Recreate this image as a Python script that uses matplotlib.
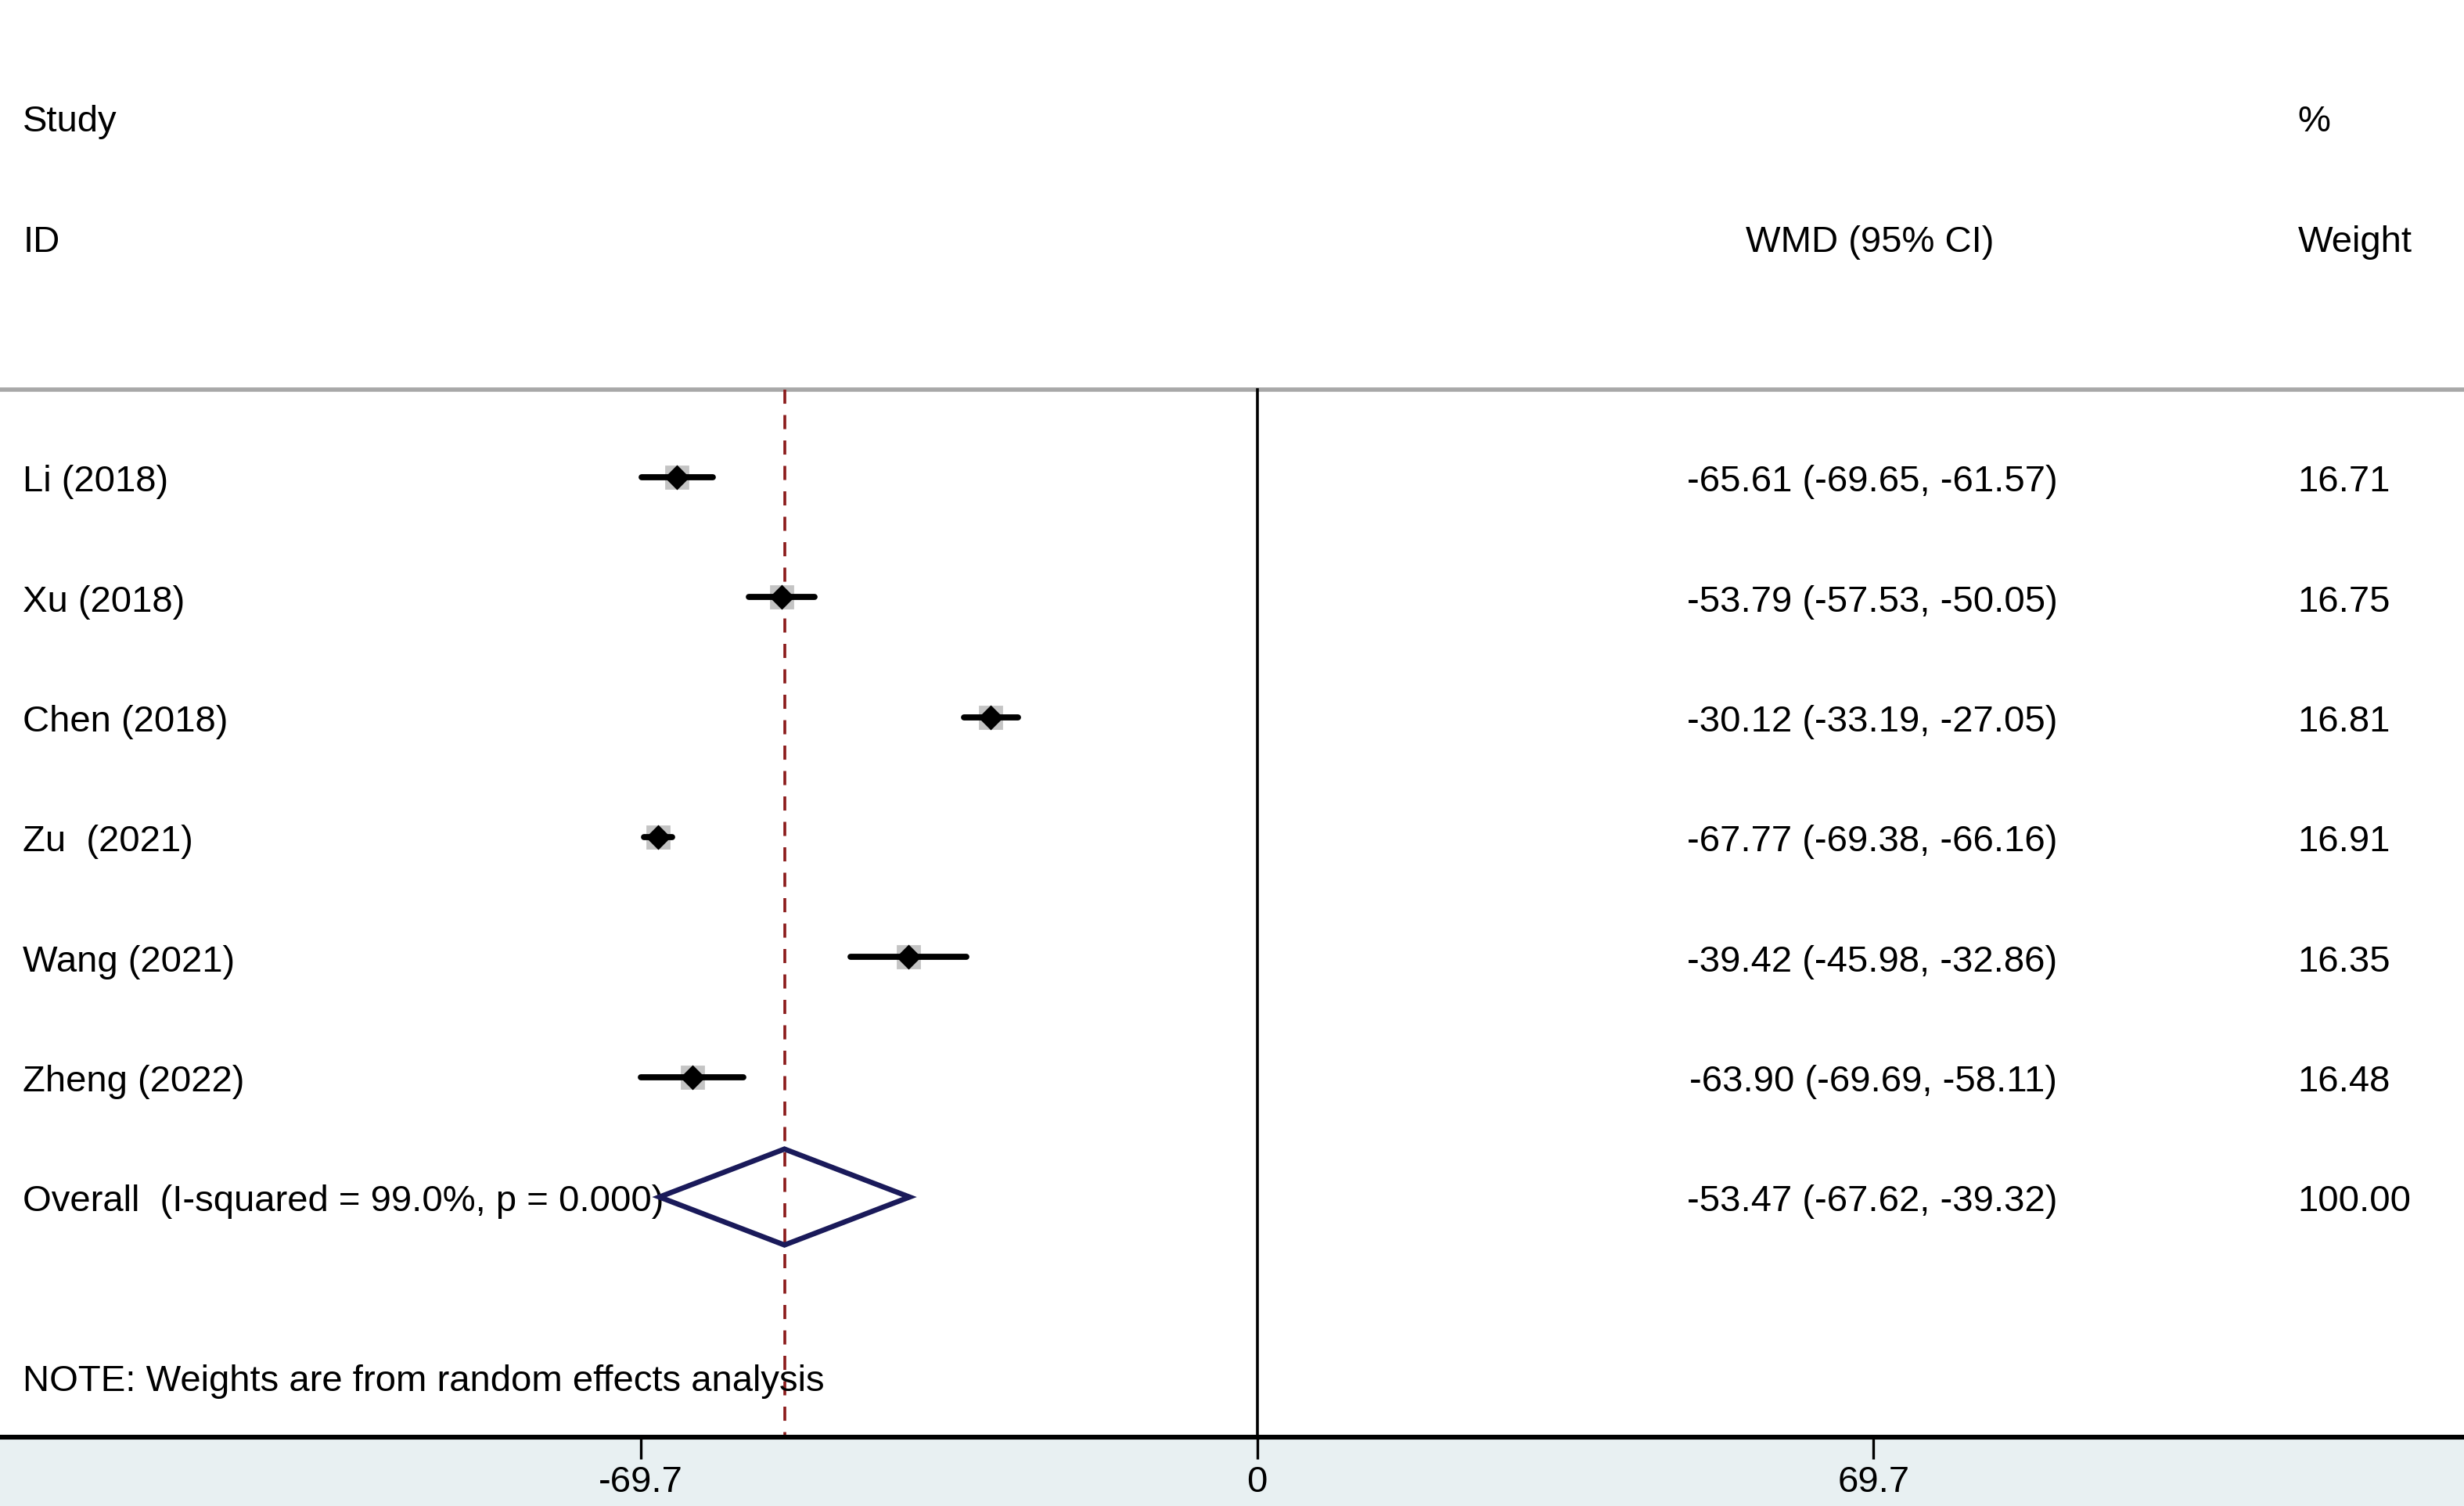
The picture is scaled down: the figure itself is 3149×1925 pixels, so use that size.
import matplotlib.pyplot as plt
from matplotlib.patches import Polygon

plt.rcParams['font.family'] = ['Liberation Sans', 'DejaVu Sans']

# study data
studies = ['Li (2018)', 'Xu (2018)', 'Chen (2018)', 'Zu  (2021)', 'Wang (2021)', 'Zheng (2022)']
wmd = [-65.61, -53.79, -30.12, -67.77, -39.42, -63.90]
lo = [-69.65, -57.53, -33.19, -69.38, -45.98, -69.69]
hi = [-61.57, -50.05, -27.05, -66.16, -32.86, -58.11]
weights = [16.71, 16.75, 16.81, 16.91, 16.35, 16.48]

overall_label = 'Overall  (I-squared = 99.0%, p = 0.000)'
overall = [-53.47, -67.62, -39.32]
overall_weight = 100.00
note = 'NOTE: Weights are from random effects analysis'
xticks = [-69.7, 0, 69.7]

fs = 17
fig = plt.figure(figsize=(15.745, 9.625), dpi=200)
fig.patch.set_facecolor('#e8f0f2')
ax = fig.add_axes([0, 1 - 915 / 959, 1, 915 / 959])
ax.set_facecolor('white')
ax.set_xlim(-142.2, 136.5)
ax.set_ylim(8.0, -3.98)

for s in ['top', 'left', 'right']:
    ax.spines[s].set_visible(False)
ax.spines['bottom'].set_linewidth(2.2)
ax.set_yticks([])
ax.set_xticks(xticks)
ax.set_xticklabels(['-69.7', '0', '69.7'])
ax.tick_params(axis='x', direction='out', length=10, width=1.2, labelsize=fs, pad=3)

x_lab = -139.6
x_wmd = 90.5
x_wt = 117.7
dy = 0.04  # nudge text down to sit like the original

# header
ax.text(x_lab, -3 + dy, 'Study', fontsize=fs, va='center', ha='left')
ax.text(x_lab, -2 + dy, 'ID', fontsize=fs, va='center', ha='left')
ax.text(69.3, -2 + dy, 'WMD (95% CI)', fontsize=fs, va='center', ha='center')
ax.text(x_wt, -3 + dy, '%', fontsize=fs, va='center', ha='left')
ax.text(x_wt, -2 + dy, 'Weight', fontsize=fs, va='center', ha='left')
ax.axhline(-0.73, color='#a8a8a8', lw=2)

# reference lines
ax.plot([0, 0], [-0.73, 8.0], color='black', lw=1.3)
ax.plot([overall[0], overall[0]], [-0.73, 8.0], color='#8b1a1a', lw=1.3, ls=(0, (5, 4)))

for i, name in enumerate(studies):
    ax.plot([lo[i], hi[i]], [i, i], color='black', lw=2.8, solid_capstyle='round', zorder=3)
    ax.plot(wmd[i], i, marker='s', ms=10, color='#c4c4c4', zorder=2)
    ax.plot(wmd[i], i, marker='D', ms=7, color='black', zorder=4)
    ax.text(x_lab, i + dy, name, fontsize=fs, va='center', ha='left')
    ax.text(x_wmd, i + dy, f'{wmd[i]:.2f} ({lo[i]:.2f}, {hi[i]:.2f})', fontsize=fs, va='center', ha='right')
    ax.text(x_wt, i + dy, f'{weights[i]:.2f}', fontsize=fs, va='center', ha='left')

r = len(studies)
diamond = Polygon([[overall[1], r], [overall[0], r - 0.4], [overall[2], r], [overall[0], r + 0.4]],
                  closed=True, fill=False, edgecolor='#1a1a5a', lw=2.4, zorder=4)
ax.add_patch(diamond)
ax.text(x_lab, r + dy, overall_label, fontsize=fs, va='center', ha='left')
ax.text(x_wmd, r + dy, f'{overall[0]:.2f} ({overall[1]:.2f}, {overall[2]:.2f})', fontsize=fs, va='center', ha='right')
ax.text(x_wt, r + dy, f'{overall_weight:.2f}', fontsize=fs, va='center', ha='left')

ax.text(x_lab, 7.5 + dy, note, fontsize=fs, va='center', ha='left')

fig.savefig('out.png', dpi=200, facecolor=fig.get_facecolor())
